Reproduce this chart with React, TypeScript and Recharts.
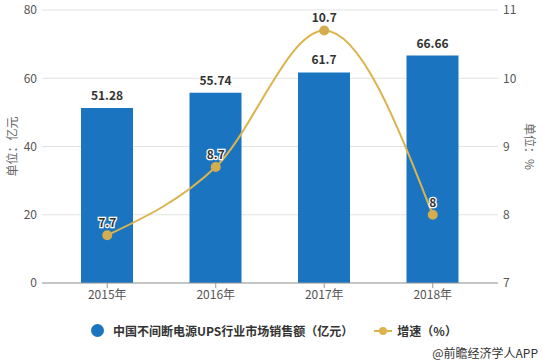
import {
  ComposedChart,
  Bar,
  Line,
  XAxis,
  YAxis,
  CartesianGrid,
  LabelList,
} from "recharts";

const years = ["2015年", "2016年", "2017年", "2018年"];
const sales = [51.28, 55.74, 61.7, 66.66];
const growth = [7.7, 8.7, 10.7, 8];
const leftTicks = [0, 20, 40, 60, 80];
const rightTicks = [7, 8, 9, 10, 11];

const BAR_COLOR = "#1a74bf";
const LINE_COLOR = "#dbb44e";
const FONT = '"Noto Sans CJK SC", "Noto Sans", sans-serif';

const data = years.map((year, i) => ({
  year,
  sales: sales[i],
  growth: growth[i],
}));

function OutlinedLabel(props: any) {
  const { x, y, width, value } = props;
  const cx = width !== undefined ? x + width / 2 : x;
  return (
    <text
      x={cx}
      y={y - 8}
      textAnchor="middle"
      fontSize={12}
      fontWeight="bold"
      fontFamily={FONT}
      fill="#333"
      stroke="#fff"
      strokeWidth={2.5}
      paintOrder="stroke"
    >
      {value}
    </text>
  );
}

export default function App() {
  return (
    <div
      style={{
        position: "absolute",
        left: 0,
        top: 0,
        width: 543,
        height: 364,
        background: "#fff",
        fontFamily: FONT,
      }}
    >
      <ComposedChart
        width={543}
        height={364}
        data={data}
        margin={{ top: 10, right: 0, bottom: 51, left: 0 }}
        barCategoryGap={0}
      >
        <CartesianGrid yAxisId="left" vertical={false} stroke="#e3e3e3" />
        <XAxis
          dataKey="year"
          height={30}
          padding={{ left: 11, right: 11 }}
          axisLine={{ stroke: "#999" }}
          tickLine={{ stroke: "#999" }}
          tickSize={5}
          tick={{ fontSize: 12, fill: "#555", fontFamily: FONT }}
        />
        <YAxis
          yAxisId="left"
          width={42}
          domain={[0, 80]}
          ticks={leftTicks}
          axisLine={false}
          tickLine={false}
          tickSize={3}
          tick={{ fontSize: 12, fill: "#555", fontFamily: FONT }}
          label={{
            value: "单位：亿元",
            angle: -90,
            position: "insideLeft",
            offset: 13,
            style: { fontSize: 12, fill: "#666", fontFamily: FONT, textAnchor: "middle" },
          }}
        />
        <YAxis
          yAxisId="right"
          orientation="right"
          width={45}
          domain={[7, 11]}
          ticks={rightTicks}
          axisLine={false}
          tickLine={false}
          tickSize={3}
          tick={{ fontSize: 12, fill: "#555", fontFamily: FONT }}
          label={{
            value: "单位：%",
            angle: 90,
            position: "insideRight",
            offset: 14,
            style: { fontSize: 12, fill: "#666", fontFamily: FONT, textAnchor: "middle" },
          }}
        />
        <Bar
          yAxisId="left"
          dataKey="sales"
          fill={BAR_COLOR}
          barSize={52}
          isAnimationActive={false}
        >
          <LabelList dataKey="sales" content={<OutlinedLabel />} />
        </Bar>
        <Line
          yAxisId="right"
          dataKey="growth"
          type="monotone"
          stroke={LINE_COLOR}
          strokeWidth={2}
          dot={{ r: 4, fill: "#d3ad4e", stroke: "#d3ad4e" }}
          isAnimationActive={false}
        >
          <LabelList dataKey="growth" content={<OutlinedLabel />} />
        </Line>
      </ComposedChart>

      <div
        style={{
          position: "absolute",
          top: 322,
          left: 91,
          display: "flex",
          alignItems: "center",
          fontSize: 12,
          fontWeight: "bold",
          color: "#333",
          whiteSpace: "nowrap",
        }}
      >
        <span
          style={{
            display: "inline-block",
            width: 13,
            height: 13,
            borderRadius: "50%",
            background: BAR_COLOR,
            marginRight: 9,
          }}
        />
        <span>中国不间断电源UPS行业市场销售额（亿元）</span>
        <svg width={20} height={12} style={{ marginLeft: 20, marginRight: 4 }}>
          <line x1={1} y1={6} x2={19} y2={6} stroke={LINE_COLOR} strokeWidth={2} />
          <circle cx={10} cy={6} r={4} fill={LINE_COLOR} />
        </svg>
        <span>增速（%）</span>
      </div>
      <div
        style={{
          position: "absolute",
          top: 344,
          right: 5,
          fontSize: 12,
          color: "#333",
          whiteSpace: "nowrap",
        }}
      >
        @前瞻经济学人APP
      </div>
    </div>
  );
}
